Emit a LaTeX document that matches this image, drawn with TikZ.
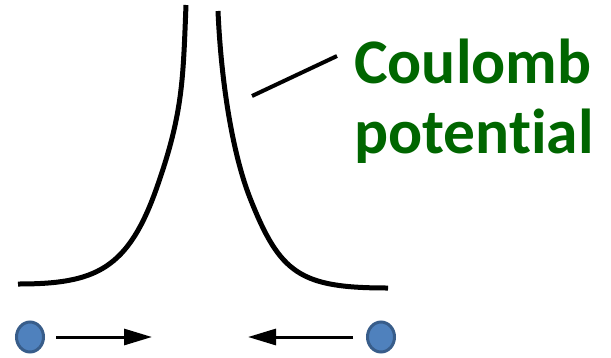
\documentclass[tikz,border=0pt]{standalone}
\usepackage{fontspec}
\setmainfont[Ligatures=NoCommon,Contextuals=NoAlternate]{Carlito}
\usetikzlibrary{arrows.meta,shapes.geometric}
\definecolor{potgreen}{RGB}{0,102,0}
\definecolor{chargefill}{RGB}{79,129,189}
\definecolor{chargeline}{RGB}{56,93,138}
\tikzset{
  curve/.style={line width=5pt},
  particle/.style={ellipse,draw=chargeline,fill=chargefill,line width=3pt,
    minimum width=27pt,minimum height=30pt,inner sep=0pt},
  push/.style={line width=3pt,-{Triangle[length=28pt,width=16pt]}},
  bigtext/.style={text=potgreen,font=\fontsize{63.5}{70}\selectfont\bfseries,
    inner sep=0pt,anchor=base west}
}
\begin{document}
\begin{tikzpicture}[x=1pt,y=-1pt]
\useasboundingbox (0,0) rectangle (611,357);
% the potential well
\draw[curve] (186,5) .. controls (183,80) and (183,113) .. (157,187)
  .. controls (128,270) and (95,284) .. (18,284);
\draw[curve] (218,11) .. controls (221,80) and (232,152) .. (250,198)
  .. controls (280,274) and (300,288) .. (388,288);

\node[bigtext] (coul) at (354,83) {Coulomb};
\node[bigtext] (pot) at (354,153) {potential};
\coordinate (tick) at (252,96);
\coordinate (tickend) at (337,56);
\draw[line width=4pt] (tick) -- (tickend);

% the two charges
\node[particle] (left) at (30,337) {};
\node[particle] (right) at (381,337) {};
\coordinate (lefttip) at (152,337);
\coordinate (righttip) at (248,337);
\draw[push] ([xshift=11pt]left.east) -- (lefttip);
\draw[push] ([xshift=-13pt]right.west) -- (righttip);
\end{tikzpicture}
\end{document}
